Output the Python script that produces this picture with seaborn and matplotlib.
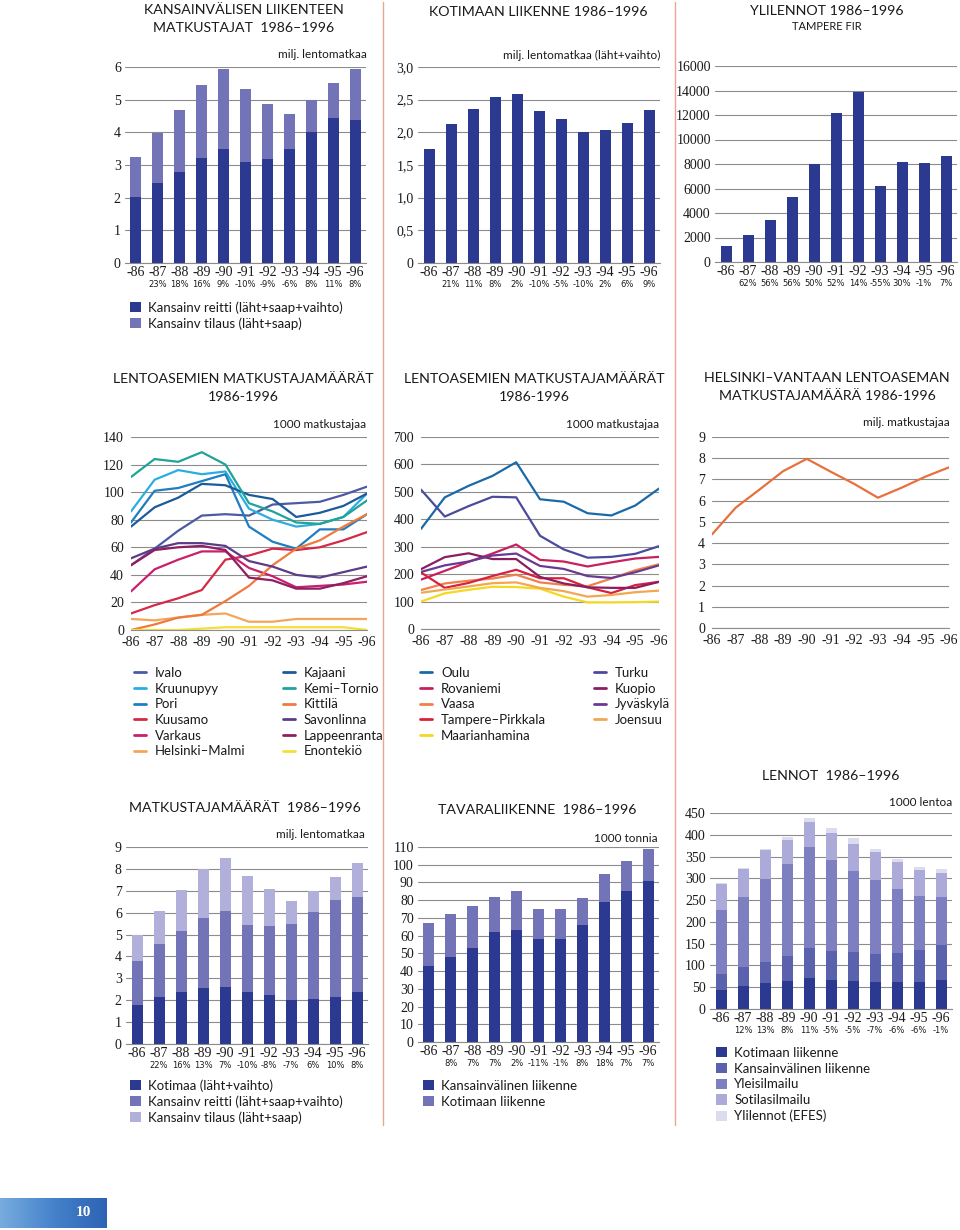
import numpy as np
import pandas as pd
import matplotlib
matplotlib.use("Agg")
import matplotlib.pyplot as plt
import seaborn as sns
from matplotlib.patches import Patch
from matplotlib.lines import Line2D
from matplotlib.colors import LinearSegmentedColormap

# Vuodet ja muutosprosentit
vuodet = ['-86', '-87', '-88', '-89', '-90', '-91', '-92', '-93', '-94', '-95', '-96']

# Kansainvälisen liikenteen matkustajat (milj. lentomatkaa)
kv_reitti = [2.01, 2.46, 2.78, 3.22, 3.50, 3.08, 3.17, 3.48, 4.00, 4.45, 4.37]
kv_tilaus = [1.22, 1.51, 1.91, 2.22, 2.43, 2.26, 1.69, 1.09, 0.98, 1.06, 1.56]
kv_muutos = ['', '23%', '18%', '16%', '9%', '-10%', '-9%', '-6%', '8%', '11%', '8%']

# Kotimaan liikenne (milj. lentomatkaa)
kotimaa = [1.75, 2.12, 2.35, 2.54, 2.59, 2.33, 2.21, 2.00, 2.03, 2.15, 2.34]
kotimaa_muutos = ['', '21%', '11%', '8%', '2%', '-10%', '-5%', '-10%', '2%', '6%', '9%']

# Ylilennot, Tampere FIR
ylilennot = [1330, 2170, 3420, 5320, 8000, 12180, 13850, 6240, 8140, 8110, 8650]
ylilennot_muutos = ['', '62%', '56%', '56%', '50%', '52%', '14%', '-55%', '30%', '-1%', '7%']

# Pienet lentoasemat (1000 matkustajaa)
ivalo = [47, 59, 72, 83, 84, 83, 91, 92, 93, 98, 104]
kruunupyy = [86, 109, 116, 113, 115, 88, 80, 75, 77, 82, 99]
pori = [78, 101, 103, 108, 113, 75, 64, 59, 73, 73, 84]
kuusamo = [12, 18, 23, 29, 51, 54, 59, 58, 60, 65, 71]
varkaus = [28, 44, 51, 57, 57, 45, 39, 31, 32, 33, 35]
helsinki_malmi = [8, 7, 9, 11, 12, 6, 6, 8, 8, 8, 8]
kajaani = [75, 89, 96, 106, 105, 98, 95, 82, 85, 90, 99]
kemi_tornio = [111, 124, 122, 129, 120, 92, 86, 78, 77, 82, 94]
kittila = [0, 4, 9, 11, 21, 32, 47, 59, 65, 75, 84]
savonlinna = [52, 59, 63, 63, 61, 50, 46, 40, 38, 42, 46]
lappeenranta = [47, 58, 60, 61, 58, 38, 36, 30, 30, 34, 39]
enontekio = [0, 0, 0, 1, 2, 2, 2, 2, 2, 2, 0]

# Suuret lentoasemat (1000 matkustajaa)
oulu = [365, 480, 522, 558, 608, 473, 464, 422, 414, 450, 512]
rovaniemi = [180, 212, 245, 275, 308, 252, 246, 228, 243, 257, 263]
vaasa = [142, 166, 176, 184, 198, 170, 161, 156, 184, 214, 236]
tampere = [206, 150, 168, 193, 216, 185, 185, 152, 131, 160, 172]
maarianhamina = [100, 130, 143, 154, 153, 147, 118, 97, 97, 98, 100]
turku = [508, 410, 448, 482, 480, 340, 290, 260, 263, 274, 302]
kuopio = [218, 262, 276, 255, 255, 190, 166, 152, 150, 150, 172]
jyvaskyla = [208, 232, 246, 268, 275, 230, 219, 193, 186, 207, 232]
joensuu = [132, 144, 155, 167, 170, 150, 138, 118, 124, 134, 140]

# Helsinki-Vantaa (milj. matkustajaa)
helsinki_vantaa = [4.41, 5.67, 6.52, 7.39, 7.97, 7.37, 6.79, 6.14, 6.61, 7.13, 7.57]

# Matkustajamäärät yhteensä (milj. lentomatkaa)
mm_kotimaa = [1.77, 2.13, 2.37, 2.56, 2.60, 2.36, 2.23, 2.02, 2.05, 2.17, 2.37]
mm_reitti = [2.00, 2.46, 2.77, 3.20, 3.48, 3.07, 3.15, 3.45, 3.97, 4.43, 4.35]
mm_tilaus = [1.23, 1.49, 1.88, 2.24, 2.42, 2.23, 1.69, 1.07, 0.97, 1.02, 1.55]
mm_muutos = ['', '22%', '16%', '13%', '7%', '-10%', '-8%', '-7%', '6%', '10%', '8%']

# Tavaraliikenne (1000 tonnia)
tavara_kv = [43, 48, 53, 62, 63, 58, 58, 66, 79, 85, 91]
tavara_kotimaa = [24, 24, 24, 20, 22, 17, 17, 15, 16, 17, 18]
tavara_muutos = ['', '8%', '7%', '7%', '2%', '-11%', '-1%', '8%', '18%', '7%', '7%']

# Lennot (1000 lentoa)
lennot_kotimaa = [44, 52, 60, 64, 71, 67, 64, 61, 62, 61, 66]
lennot_kv = [37, 44, 49, 57, 68, 67, 66, 65, 67, 74, 81]
lennot_yleis = [147, 160, 190, 212, 232, 207, 186, 171, 146, 125, 111]
lennot_sotilas = [60, 65, 65, 56, 59, 62, 63, 63, 62, 58, 55]
lennot_yli = [1.3, 2.2, 3.4, 5.3, 8.0, 12.2, 13.9, 6.3, 8.2, 8.1, 8.7]
lennot_muutos = ['', '12%', '13%', '8%', '11%', '-5%', '-5%', '-7%', '-6%', '-6%', '-1%']

# Värit
navy = '#2b3990'
lila1 = '#5b62ad'
lila2 = '#7374b8'
lila3 = '#abaad9'
lila4 = '#dcdcef'
harmaa = '#8c8c8c'
teksti_vari = '#1a1a1a'
serif = ['Liberation Serif', 'DejaVu Serif']
kapea = ['Liberation Sans Narrow', 'DejaVu Sans']

sns.set_theme(style="white")
plt.rcParams['font.family'] = ['Lato', 'DejaVu Sans']

W, H = 960, 1230
fig = plt.figure(figsize=(9.6, 12.3), dpi=100)


def akseli(x0, x1, ytop, ybot):
    return fig.add_axes([x0 / W, 1 - ybot / H, (x1 - x0) / W, (ybot - ytop) / H])


def teksti(x, y, s, koko=10.2, ha='center', **kw):
    fig.text(x / W, 1 - y / H, s, fontsize=koko, ha=ha, va='center', color=teksti_vari, **kw)


def perusakseli(ax, yt, ylab):
    ax.set_facecolor('none')
    ax.set_ylim(yt[0], yt[-1])
    ax.set_yticks(yt, ylab, fontfamily=serif, fontsize=10)
    ax.yaxis.grid(True, color=harmaa, lw=0.8)
    ax.xaxis.grid(False)
    ax.set_axisbelow(True)
    for s in ['top', 'right', 'left']:
        ax.spines[s].set_visible(False)
    ax.spines['bottom'].set_color(harmaa)
    ax.spines['bottom'].set_linewidth(0.8)
    ax.tick_params(axis='y', length=0, pad=3, labelcolor=teksti_vari)
    ax.set_xlabel('')
    ax.set_ylabel('')


def pylvasakseli(ax, yt, ylab, muutos):
    perusakseli(ax, yt, ylab)
    ax.set_xlim(-0.5, 10.5)
    ax.set_xticks(range(11), vuodet, fontfamily=serif, fontsize=10)
    ax.set_xticks(np.arange(0.5, 10, 1), minor=True)
    ax.tick_params(axis='x', which='major', length=0, pad=2, labelcolor=teksti_vari)
    ax.tick_params(axis='x', which='minor', length=4, direction='inout', color=harmaa, width=0.8)
    for i, p in enumerate(muutos):
        ax.annotate(p, xy=(i, 0), xycoords=('data', 'axes fraction'), xytext=(0, -17),
                    textcoords='offset pixels', ha='center', va='top', fontsize=6,
                    family=kapea, color=teksti_vari)


def viiva_akseli(ax, yt, ylab):
    perusakseli(ax, yt, ylab)
    ax.set_xlim(0, 10)
    ax.set_xticks(range(11), vuodet, fontfamily=serif, fontsize=10)
    ax.tick_params(axis='x', length=5, direction='in', color=harmaa, width=0.8, pad=4,
                   labelcolor=teksti_vari)
    ax.tick_params(axis='y', pad=5)


def pylvaat(ax, kerrokset, varit):
    # pinotut pylväät: piirretään kumulatiiviset summat ylhäältä alas
    summat = np.cumsum(np.array(kerrokset), axis=0)
    for k in range(len(kerrokset) - 1, -1, -1):
        sns.barplot(x=vuodet, y=summat[k], color=varit[k], width=0.5, saturation=1,
                    errorbar=None, linewidth=0, edgecolor='none', ax=ax)


def selite(x, y, kahvat, nimet, ncol=1, **kw):
    fig.legend(kahvat, nimet, loc='upper left', bbox_to_anchor=(x / W, 1 - y / H),
               frameon=False, borderpad=0, borderaxespad=0, fontsize=9.5,
               labelspacing=0.28, ncol=ncol, labelcolor=teksti_vari, **kw)


def laatikot(varit):
    return [Patch(facecolor=v, edgecolor='none') for v in varit]


# --- Ylärivi ---
ax1 = akseli(125, 366, 67, 263)
pylvaat(ax1, [kv_reitti, kv_tilaus], [navy, lila2])
pylvasakseli(ax1, list(range(7)), [str(v) for v in range(7)], kv_muutos)
teksti(244, 10, 'KANSAINVÄLISEN LIIKENTEEN')
teksti(244, 28, 'MATKUSTAJAT  1986–1996')
teksti(367, 55, 'milj. lentomatkaa', koko=8.5, ha='right')
selite(130, 301, laatikot([navy, lila2]),
       ['Kansainv reitti (läht+saap+vaihto)', 'Kansainv tilaus (läht+saap)'],
       handlelength=0.8, handleheight=0.8, handletextpad=0.6)

ax2 = akseli(418, 660, 67, 263)
pylvaat(ax2, [kotimaa], [navy])
pylvasakseli(ax2, [0, 0.5, 1.0, 1.5, 2.0, 2.5, 3.0],
             ['0', '0,5', '1,0', '1,5', '2,0', '2,5', '3,0'], kotimaa_muutos)
teksti(538, 12, 'KOTIMAAN LIIKENNE 1986–1996')
teksti(660, 55, 'milj. lentomatkaa (läht+vaihto)', koko=8.5, ha='right')

ax3 = akseli(715, 957, 66, 262)
pylvaat(ax3, [ylilennot], [navy])
yt3 = list(range(0, 16001, 2000))
pylvasakseli(ax3, yt3, [str(v) for v in yt3], ylilennot_muutos)
teksti(827, 11, 'YLILENNOT 1986–1996')
teksti(827, 27, 'TAMPERE FIR', koko=8)

# --- Keskirivi ---
pienet_nimet = ['Ivalo', 'Kruunupyy', 'Pori', 'Kuusamo', 'Varkaus', 'Helsinki–Malmi',
                'Kajaani', 'Kemi–Tornio', 'Kittilä', 'Savonlinna', 'Lappeenranta', 'Enontekiö']
pienet_sarjat = [ivalo, kruunupyy, pori, kuusamo, varkaus, helsinki_malmi,
                 kajaani, kemi_tornio, kittila, savonlinna, lappeenranta, enontekio]
pienet_varit = ['#4b5aa3', '#2aaee0', '#1f7dc0', '#d42a48', '#c8206e', '#f3a65a',
                '#1b5b9a', '#1fa39a', '#f07a3c', '#5b3c86', '#8e1f62', '#f2e03a']

suuret_nimet = ['Oulu', 'Rovaniemi', 'Vaasa', 'Tampere–Pirkkala', 'Maarianhamina',
                'Turku', 'Kuopio', 'Jyväskylä', 'Joensuu']
suuret_sarjat = [oulu, rovaniemi, vaasa, tampere, maarianhamina,
                 turku, kuopio, jyvaskyla, joensuu]
suuret_varit = ['#1b6aa8', '#c8205e', '#f0804a', '#d8213f', '#f5d820',
                '#4b4b9c', '#8a1f60', '#6a3a92', '#f2a850']


def pitka(nimet, sarjat):
    return pd.DataFrame({
        'vuosi': np.tile(np.arange(11), len(nimet)),
        'asema': np.repeat(nimet, 11),
        'matkustajat': np.concatenate([np.array(s, dtype=float) for s in sarjat]),
    })


ax4 = akseli(131, 367, 437, 630)
sns.lineplot(data=pitka(pienet_nimet, pienet_sarjat), x='vuosi', y='matkustajat', hue='asema',
             hue_order=pienet_nimet, palette=dict(zip(pienet_nimet, pienet_varit)),
             legend=False, lw=1.6, errorbar=None, ax=ax4)
yt4 = list(range(0, 141, 20))
viiva_akseli(ax4, yt4, [str(v) for v in yt4])
teksti(243, 379, 'LENTOASEMIEN MATKUSTAJAMÄÄRÄT')
teksti(243, 397, '1986-1996')
teksti(366, 424, '1000 matkustajaa', koko=8.5, ha='right')

ax5 = akseli(421, 659, 437, 629)
sns.lineplot(data=pitka(suuret_nimet, suuret_sarjat), x='vuosi', y='matkustajat', hue='asema',
             hue_order=suuret_nimet, palette=dict(zip(suuret_nimet, suuret_varit)),
             legend=False, lw=1.6, errorbar=None, ax=ax5)
yt5 = list(range(0, 701, 100))
viiva_akseli(ax5, yt5, [str(v) for v in yt5])
teksti(534, 379, 'LENTOASEMIEN MATKUSTAJAMÄÄRÄT')
teksti(534, 397, '1986-1996')
teksti(659, 424, '1000 matkustajaa', koko=8.5, ha='right')

ax6 = akseli(712, 949, 437, 628)
sns.lineplot(x=np.arange(11), y=helsinki_vantaa, color='#e8703c', lw=1.6, errorbar=None, ax=ax6)
viiva_akseli(ax6, list(range(10)), [str(v) for v in range(10)])
teksti(827, 378, 'HELSINKI–VANTAAN LENTOASEMAN')
teksti(827, 396, 'MATKUSTAJAMÄÄRÄ 1986-1996')
teksti(950, 423, 'milj. matkustajaa', koko=8.5, ha='right')

selite(134, 667, [Line2D([], [], color=c, lw=2) for c in pienet_varit], pienet_nimet, ncol=2,
       handlelength=0.9, handletextpad=0.7, columnspacing=2.8)
selite(420, 667, [Line2D([], [], color=c, lw=2) for c in suuret_varit], suuret_nimet, ncol=2,
       handlelength=0.9, handletextpad=0.7, columnspacing=3.6)

# --- Alarivi ---
ax7 = akseli(126, 368, 847, 1044)
pylvaat(ax7, [mm_kotimaa, mm_reitti, mm_tilaus], [navy, lila2, '#b0b0da'])
pylvasakseli(ax7, list(range(10)), [str(v) for v in range(10)], mm_muutos)
teksti(245, 808, 'MATKUSTAJAMÄÄRÄT  1986–1996')
teksti(365, 835, 'milj. lentomatkaa', koko=8.5, ha='right')
selite(130, 1079, laatikot([navy, lila2, '#b0b0da']),
       ['Kotimaa (läht+vaihto)', 'Kansainv reitti (läht+saap+vaihto)', 'Kansainv tilaus (läht+saap)'],
       handlelength=0.8, handleheight=0.8, handletextpad=0.6)

ax8 = akseli(418, 659, 847, 1042)
pylvaat(ax8, [tavara_kv, tavara_kotimaa], [navy, lila2])
yt8 = list(range(0, 111, 10))
pylvasakseli(ax8, yt8, [str(v) for v in yt8], tavara_muutos)
teksti(537, 810, 'TAVARALIIKENNE  1986–1996')
teksti(658, 838, '1000 tonnia', koko=8.5, ha='right')
selite(423, 1080, laatikot([navy, lila2]), ['Kansainvälinen liikenne', 'Kotimaan liikenne'],
       handlelength=0.8, handleheight=0.8, handletextpad=0.6)

ax9 = akseli(710, 952, 813, 1009)
pylvaat(ax9, [lennot_kotimaa, lennot_kv, lennot_yleis, lennot_sotilas, lennot_yli],
        [navy, lila1, '#7e7fc0', lila3, lila4])
yt9 = list(range(0, 451, 50))
pylvasakseli(ax9, yt9, [str(v) for v in yt9], lennot_muutos)
teksti(831, 776, 'LENNOT  1986–1996')
teksti(952, 802, '1000 lentoa', koko=8.5, ha='right')
selite(716, 1047, laatikot([navy, lila1, '#7e7fc0', lila3, lila4]),
       ['Kotimaan liikenne', 'Kansainvälinen liikenne', 'Yleisilmailu', 'Sotilasilmailu',
        'Ylilennot (EFES)'],
       handlelength=0.8, handleheight=0.8, handletextpad=0.6)

# Erotinviivat sarakkeiden välissä
for x in (383, 675):
    fig.add_artist(Line2D([x / W, x / W], [1 - 2 / H, 1 - 1125 / H], color='#eba58c', lw=1))

# Sivunumero
axn = akseli(0, 107, 1198, 1228)
liuku = np.linspace(0, 1, 256).reshape(1, -1)
axn.imshow(liuku, aspect='auto', extent=(0, 1, 0, 1),
           cmap=LinearSegmentedColormap.from_list('sivu', ['#78acde', '#4582cb', '#2d63b3']))
axn.axis('off')
axn.text(0.78, 0.5, '10', color='white', fontsize=11, fontweight='bold', ha='center',
         va='center', family=serif)

fig.savefig('out.png', dpi=100)
